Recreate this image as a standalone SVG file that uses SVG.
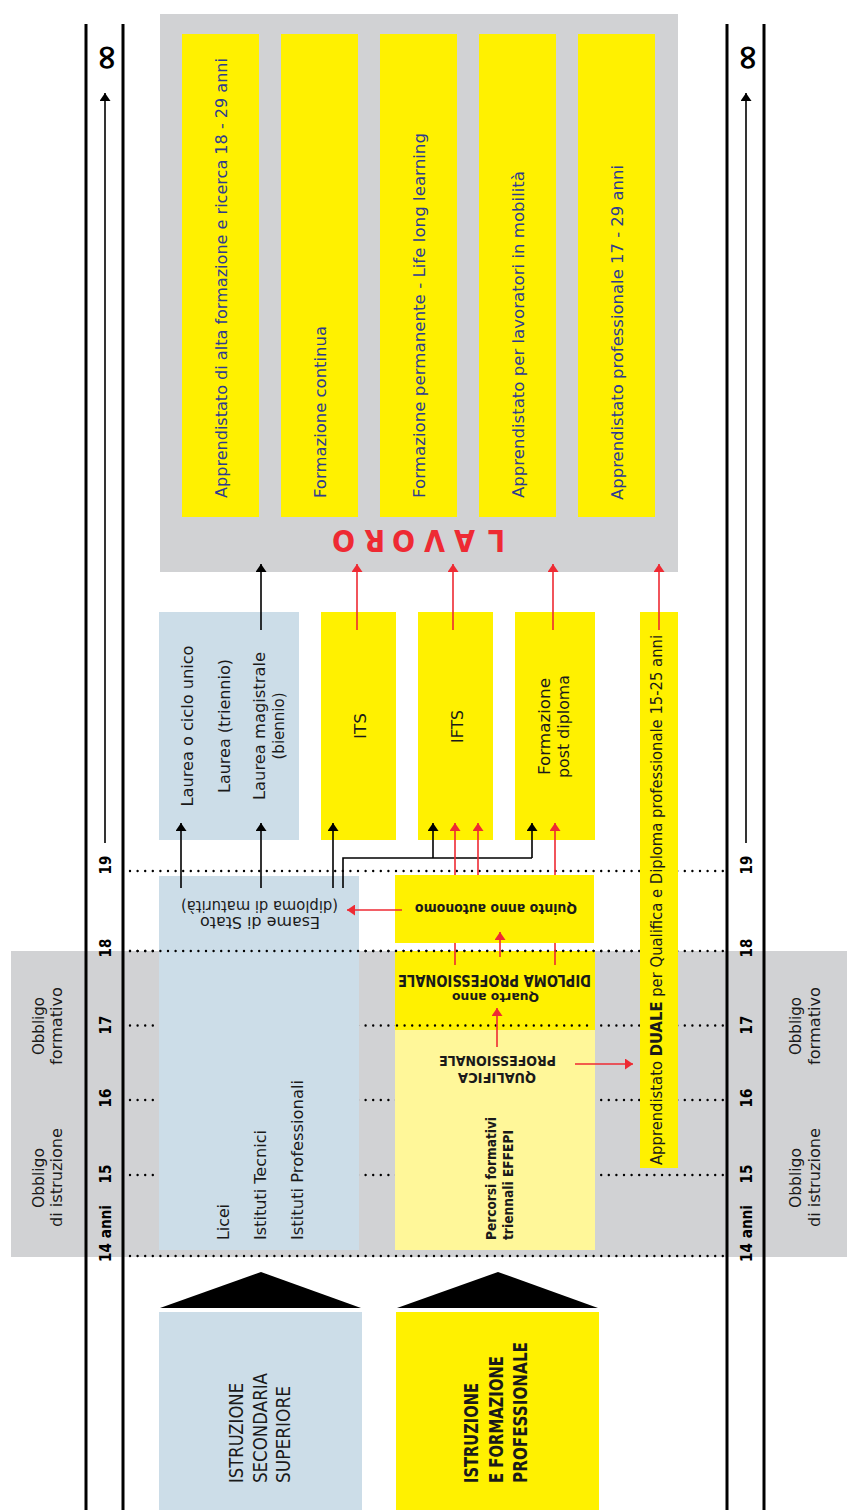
<svg xmlns="http://www.w3.org/2000/svg" width="847" height="1510" viewBox="0 0 847 1510">
<defs>
<marker id="mb" viewBox="0 0 8 11" refX="8" refY="5.5" markerWidth="8" markerHeight="11" markerUnits="userSpaceOnUse" orient="auto"><path d="M0,0L8,5.5L0,11z" fill="#000"/></marker>
<marker id="mr" viewBox="0 0 8 11" refX="8" refY="5.5" markerWidth="8" markerHeight="11" markerUnits="userSpaceOnUse" orient="auto"><path d="M0,0L8,5.5L0,11z" fill="#ee2a33"/></marker>
</defs>
<style>
.t{font-family:"DejaVu Sans","Open Sans",sans-serif;}
.c{font-family:"DejaVu Sans Condensed","Liberation Sans Narrow","DejaVu Sans",sans-serif;font-stretch:condensed;}
.b{font-weight:bold}
.nav{fill:#2e3b8f;font-size:16px}
.dk{fill:#1a1a1a}
.yl{fill:#fff100}
.ly{fill:#fff799}
.bl{fill:#ccdde8}
.gr{fill:#d1d2d4}
.dot{stroke:#000;stroke-width:2.4;stroke-linecap:round;stroke-dasharray:0 7.6;fill:none}
.ax{stroke:#000;stroke-width:3}
.lk{stroke:#000;stroke-width:1.6;fill:none}
.lr{stroke:#ee2a33;stroke-width:1.6;fill:none}
</style>
<rect width="847" height="1510" fill="#fff"/>

<g id="obbligo-band">
<rect class="gr" x="11" y="951" width="836" height="306"/>
<text class="c dk" font-size="15" text-anchor="middle" transform="translate(43.5,1026) rotate(-90)" textLength="58" lengthAdjust="spacingAndGlyphs">Obbligo</text>
<text class="c dk" font-size="15" text-anchor="middle" transform="translate(62,1026) rotate(-90)" textLength="78" lengthAdjust="spacingAndGlyphs">formativo</text>
<text class="c dk" font-size="15" text-anchor="middle" transform="translate(43.5,1178) rotate(-90)" textLength="60" lengthAdjust="spacingAndGlyphs">Obbligo</text>
<text class="c dk" font-size="15" text-anchor="middle" transform="translate(62,1177.5) rotate(-90)" textLength="99" lengthAdjust="spacingAndGlyphs">di istruzione</text>
<text class="c dk" font-size="15" text-anchor="middle" transform="translate(801,1026) rotate(-90)" textLength="58" lengthAdjust="spacingAndGlyphs">Obbligo</text>
<text class="c dk" font-size="15" text-anchor="middle" transform="translate(819.5,1026) rotate(-90)" textLength="78" lengthAdjust="spacingAndGlyphs">formativo</text>
<text class="c dk" font-size="15" text-anchor="middle" transform="translate(801,1178) rotate(-90)" textLength="60" lengthAdjust="spacingAndGlyphs">Obbligo</text>
<text class="c dk" font-size="15" text-anchor="middle" transform="translate(819.5,1177.5) rotate(-90)" textLength="99" lengthAdjust="spacingAndGlyphs">di istruzione</text>
</g>

<g id="lavoro">
<rect class="gr" x="160" y="14" width="518" height="558"/>
<text class="c b" font-size="30" fill="#ee2a33" transform="translate(505,530) rotate(180)" x="0 30 60 90 120 150">LAVORO</text>
</g>
<g id="alta-formazione"><rect class="yl" x="182" y="34" width="77" height="483"/>
<text class="t nav" transform="translate(226.5,498) rotate(-90)" textLength="440" lengthAdjust="spacingAndGlyphs">Apprendistato di alta formazione e ricerca 18 - 29 anni</text></g>
<g id="formazione-continua"><rect class="yl" x="281" y="34" width="77" height="483"/>
<text class="t nav" transform="translate(325.5,498) rotate(-90)" textLength="172" lengthAdjust="spacingAndGlyphs">Formazione continua</text></g>
<g id="formazione-permanente"><rect class="yl" x="380" y="34" width="77" height="483"/>
<text class="t nav" transform="translate(424.5,498) rotate(-90)" textLength="365" lengthAdjust="spacingAndGlyphs">Formazione permanente - Life long learning</text></g>
<g id="lavoratori-mobilita"><rect class="yl" x="479" y="34" width="77" height="483"/>
<text class="t nav" transform="translate(523.5,498) rotate(-90)" textLength="327" lengthAdjust="spacingAndGlyphs">Apprendistato per lavoratori in mobilità</text></g>
<g id="apprendistato-professionale"><rect class="yl" x="578" y="34" width="77" height="483"/>
<text class="t nav" transform="translate(622.5,500) rotate(-90)" textLength="335" lengthAdjust="spacingAndGlyphs">Apprendistato professionale 17 - 29 anni</text></g>

<g id="dotted-under">
<line class="dot" x1="130" y1="871" x2="724" y2="871"/>
<line class="dot" x1="130" y1="951" x2="724" y2="951"/>
<line class="dot" x1="130" y1="1025.5" x2="724" y2="1025.5"/>
<line class="dot" x1="130" y1="1100" x2="724" y2="1100"/>
<line class="dot" x1="130" y1="1175" x2="724" y2="1175"/>
<line class="dot" x1="130" y1="1256" x2="724" y2="1256"/>
</g>

<g id="axis">
<line class="ax" x1="86" y1="24" x2="86" y2="1510"/>
<line class="ax" x1="123" y1="24" x2="123" y2="1510"/>
<line class="ax" x1="727" y1="24" x2="727" y2="1510"/>
<line class="ax" x1="764" y1="24" x2="764" y2="1510"/>
<line class="lk" x1="105" y1="843" x2="105" y2="93" marker-end="url(#mb)"/>
<line class="lk" x1="746" y1="843" x2="746" y2="93" marker-end="url(#mb)"/>
<text class="t b" font-size="34" text-anchor="middle" dominant-baseline="central" transform="translate(105,57.5) rotate(-90)">∞</text>
<text class="t b" font-size="34" text-anchor="middle" dominant-baseline="central" transform="translate(746,57.5) rotate(-90)">∞</text>
<g class="c b" font-size="15" text-anchor="middle">
<text transform="translate(111,865) rotate(-90)">19</text>
<text transform="translate(111,948) rotate(-90)">18</text>
<text transform="translate(111,1025) rotate(-90)">17</text>
<text transform="translate(111,1098) rotate(-90)">16</text>
<text transform="translate(111,1174) rotate(-90)">15</text>
<text transform="translate(752,865) rotate(-90)">19</text>
<text transform="translate(752,948) rotate(-90)">18</text>
<text transform="translate(752,1025) rotate(-90)">17</text>
<text transform="translate(752,1098) rotate(-90)">16</text>
<text transform="translate(752,1174) rotate(-90)">15</text>
</g>
<text class="c b" font-size="15" transform="translate(111,1262) rotate(-90)" textLength="57" lengthAdjust="spacingAndGlyphs">14 anni</text>
<text class="c b" font-size="15" transform="translate(752,1262) rotate(-90)" textLength="57" lengthAdjust="spacingAndGlyphs">14 anni</text>
</g>

<g id="laurea"><rect class="bl" x="159" y="612" width="140" height="228"/>
<text class="t dk" font-size="16.5" text-anchor="middle" transform="translate(193,726) rotate(-90)" textLength="161" lengthAdjust="spacingAndGlyphs">Laurea o ciclo unico</text>
<text class="t dk" font-size="16.5" text-anchor="middle" transform="translate(229.5,726) rotate(-90)" textLength="134" lengthAdjust="spacingAndGlyphs">Laurea (triennio)</text>
<text class="t dk" font-size="16.5" text-anchor="middle" transform="translate(265,726) rotate(-90)" textLength="148" lengthAdjust="spacingAndGlyphs">Laurea magistrale</text>
<text class="t dk" font-size="16.5" text-anchor="middle" transform="translate(283.5,726) rotate(-90)" textLength="67" lengthAdjust="spacingAndGlyphs">(biennio)</text></g>
<g id="its"><rect class="yl" x="321" y="612" width="75" height="228"/>
<text class="t dk" font-size="16.5" text-anchor="middle" transform="translate(366,726) rotate(-90)" textLength="26" lengthAdjust="spacingAndGlyphs">ITS</text></g>
<g id="ifts"><rect class="yl" x="418" y="612" width="75" height="228"/>
<text class="t dk" font-size="16.5" text-anchor="middle" transform="translate(463,726.5) rotate(-90)" textLength="33" lengthAdjust="spacingAndGlyphs">IFTS</text></g>
<g id="post-diploma"><rect class="yl" x="515" y="612" width="80" height="228"/>
<text class="t dk" font-size="16.5" text-anchor="middle" transform="translate(550,726.5) rotate(-90)" textLength="97" lengthAdjust="spacingAndGlyphs">Formazione</text>
<text class="t dk" font-size="16.5" text-anchor="middle" transform="translate(569,726.5) rotate(-90)" textLength="103" lengthAdjust="spacingAndGlyphs">post diploma</text></g>
<g id="duale"><rect class="yl" x="640" y="612" width="38" height="556"/>
<text class="t dk" font-size="16" transform="translate(662,1165) rotate(-90)" textLength="530" lengthAdjust="spacingAndGlyphs">Apprendistato <tspan class="b">DUALE</tspan> per Qualifica e Diploma professionale 15-25 anni</text></g>

<g id="secondaria"><rect class="bl" x="159" y="876" width="200" height="374"/>
<text class="t dk" font-size="16" text-anchor="middle" transform="translate(260,917) rotate(180)" textLength="120" lengthAdjust="spacingAndGlyphs">Esame di Stato</text>
<text class="t dk" font-size="16" text-anchor="middle" transform="translate(259.5,900.5) rotate(180)" textLength="157" lengthAdjust="spacingAndGlyphs">(diploma di maturità)</text>
<text class="t dk" font-size="16.5" transform="translate(229,1240) rotate(-90)" textLength="36" lengthAdjust="spacingAndGlyphs">Licei</text>
<text class="t dk" font-size="16.5" transform="translate(266,1240) rotate(-90)" textLength="110" lengthAdjust="spacingAndGlyphs">Istituti Tecnici</text>
<text class="t dk" font-size="16.5" transform="translate(303,1240) rotate(-90)" textLength="160" lengthAdjust="spacingAndGlyphs">Istituti Professionali</text></g>

<g id="quinto-anno"><rect class="yl" x="395" y="875" width="199" height="68"/>
<text class="c b dk" font-size="14" text-anchor="middle" transform="translate(496,904) rotate(180)" textLength="162" lengthAdjust="spacingAndGlyphs">Quinto anno autonomo</text></g>
<g id="quarto-anno"><rect class="yl" x="395" y="951" width="200" height="79"/>
<text class="c b dk" font-size="13" text-anchor="middle" transform="translate(495.5,993) rotate(180)" textLength="87" lengthAdjust="spacingAndGlyphs">Quarto anno</text>
<text class="c b dk" font-size="15" text-anchor="middle" transform="translate(494.5,975) rotate(180)" textLength="193" lengthAdjust="spacingAndGlyphs">DIPLOMA PROFESSIONALE</text></g>
<g id="effepi"><rect class="ly" x="395" y="1030" width="200" height="220"/>
<text class="c b dk" font-size="14.5" text-anchor="middle" transform="translate(497,1073) rotate(180)" textLength="78" lengthAdjust="spacingAndGlyphs">QUALIFICA</text>
<text class="c b dk" font-size="14.5" text-anchor="middle" transform="translate(497.5,1056) rotate(180)" textLength="117" lengthAdjust="spacingAndGlyphs">PROFESSIONALE</text>
<text class="c b dk" font-size="13.5" transform="translate(495.5,1240) rotate(-90)" textLength="123" lengthAdjust="spacingAndGlyphs">Percorsi formativi</text>
<text class="c b dk" font-size="13.5" transform="translate(513,1240) rotate(-90)" textLength="110" lengthAdjust="spacingAndGlyphs">triennali EFFEPI</text></g>

<g id="dotted-over">
<line class="dot" x1="130" y1="951" x2="636" y2="951"/>
<line class="dot" x1="397" y1="1025.5" x2="593" y2="1025.5"/>
</g>

<g id="istruzione-secondaria">
<polygon points="160,1308 261,1272 361,1308" fill="#000"/>
<rect class="bl" x="159" y="1312" width="203" height="198"/>
<text class="c dk" font-size="19" transform="translate(243,1483) rotate(-90)" textLength="100" lengthAdjust="spacingAndGlyphs">ISTRUZIONE</text>
<text class="c dk" font-size="19" transform="translate(267,1483) rotate(-90)" textLength="110" lengthAdjust="spacingAndGlyphs">SECONDARIA</text>
<text class="c dk" font-size="19" transform="translate(290,1483) rotate(-90)" textLength="97" lengthAdjust="spacingAndGlyphs">SUPERIORE</text>
</g>
<g id="istruzione-formazione">
<polygon points="397,1308 498,1272 598,1308" fill="#000"/>
<rect class="yl" x="396" y="1312" width="203" height="198"/>
<text class="c b dk" font-size="19" transform="translate(478,1483) rotate(-90)" textLength="100" lengthAdjust="spacingAndGlyphs">ISTRUZIONE</text>
<text class="c b dk" font-size="19" transform="translate(502.5,1483) rotate(-90)" textLength="127" lengthAdjust="spacingAndGlyphs">E FORMAZIONE</text>
<text class="c b dk" font-size="19" transform="translate(526.5,1483) rotate(-90)" textLength="141" lengthAdjust="spacingAndGlyphs">PROFESSIONALE</text>
</g>

<g id="connectors">
<line class="lk" x1="261" y1="630" x2="261" y2="564" marker-end="url(#mb)"/>
<line class="lr" x1="357" y1="630" x2="357" y2="564" marker-end="url(#mr)"/>
<line class="lr" x1="453" y1="630" x2="453" y2="564" marker-end="url(#mr)"/>
<line class="lr" x1="553" y1="630" x2="553" y2="564" marker-end="url(#mr)"/>
<line class="lr" x1="659" y1="630" x2="659" y2="564" marker-end="url(#mr)"/>
<line class="lk" x1="181" y1="888" x2="181" y2="823" marker-end="url(#mb)"/>
<line class="lk" x1="261" y1="888" x2="261" y2="823" marker-end="url(#mb)"/>
<line class="lk" x1="333" y1="888" x2="333" y2="823" marker-end="url(#mb)"/>
<path class="lk" d="M343,888V858H532"/>
<line class="lk" x1="433" y1="858" x2="433" y2="823" marker-end="url(#mb)"/>
<line class="lk" x1="532" y1="858" x2="532" y2="823" marker-end="url(#mb)"/>
<line class="lr" x1="455" y1="875" x2="455" y2="823" marker-end="url(#mr)"/>
<line class="lr" x1="478" y1="875" x2="478" y2="823" marker-end="url(#mr)"/>
<line class="lr" x1="555" y1="875" x2="555" y2="823" marker-end="url(#mr)"/>
<line class="lr" x1="455" y1="965" x2="455" y2="943"/>
<line class="lr" x1="555" y1="965" x2="555" y2="943"/>
<line class="lr" x1="402" y1="910" x2="347" y2="910" marker-end="url(#mr)"/>
<line class="lr" x1="500" y1="957" x2="500" y2="932" marker-end="url(#mr)"/>
<line class="lr" x1="497" y1="1047" x2="497" y2="1008" marker-end="url(#mr)"/>
<line class="lr" x1="575" y1="1064" x2="633" y2="1064" marker-end="url(#mr)"/>
</g>
</svg>
